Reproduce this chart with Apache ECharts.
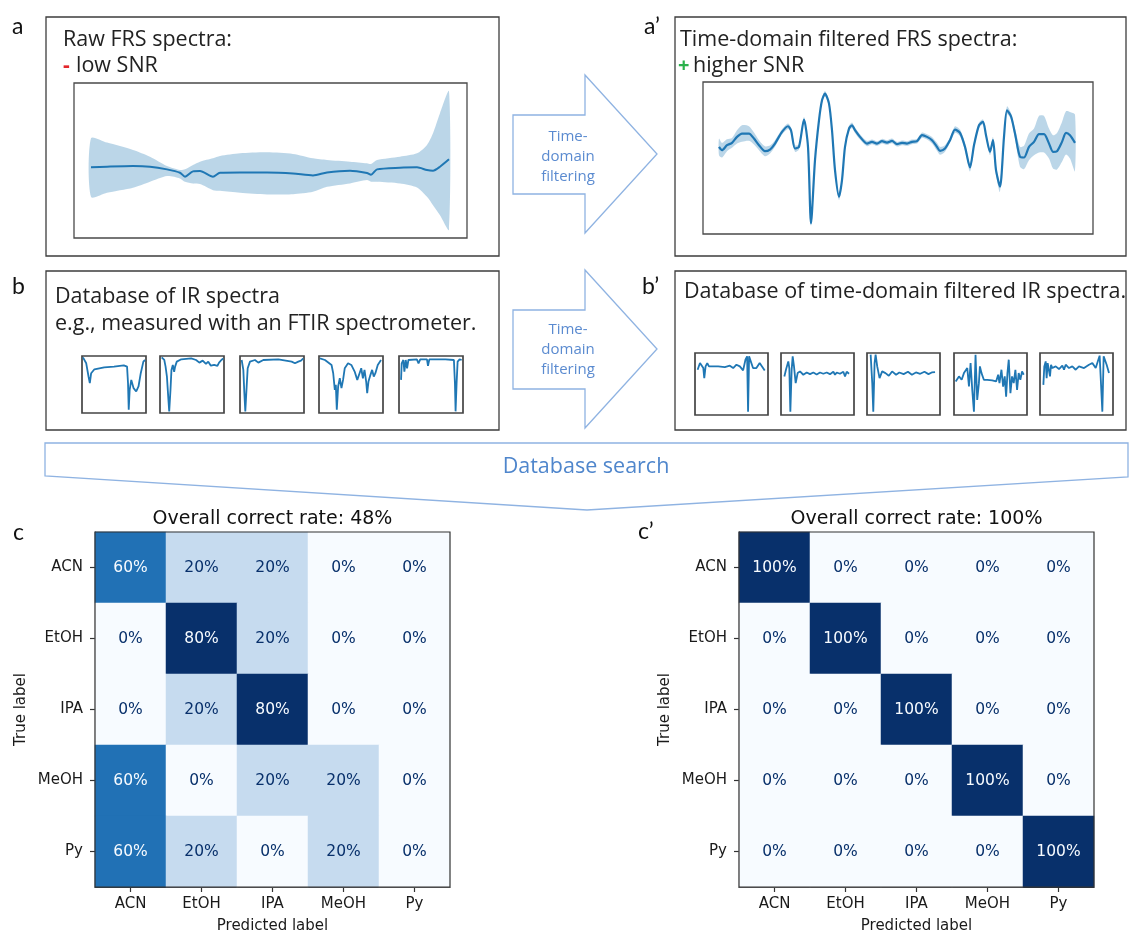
<!DOCTYPE html>
<html>
<head>
<meta charset="utf-8">
<script src="https://cdn.jsdelivr.net/npm/echarts@6/dist/echarts.min.js"></script>
<style>
  html, body { margin: 0; padding: 0; background: #ffffff; }
  #chart { width: 1130px; height: 935px; }
</style>
</head>
<body>
<div id="chart"></div>
<script>
// ---- a: raw FRS spectra (mean and spread) ----
const rawX     = [17, 33, 59, 76, 93, 106, 111, 119, 126, 139, 146, 166, 193, 219, 239, 253, 276, 293, 297, 303, 326, 343, 353, 359, 366, 375];
const rawMean  = [0, 0.02, 0.04, 0.02, -0.06, -0.16, -0.28, -0.12, -0.11, -0.28, -0.16, -0.15, -0.15, -0.18, -0.24, -0.15, -0.10, -0.17, -0.22, -0.06, -0.01, 0, -0.08, -0.10, 0.02, 0.24];
const rawUpper = [0.87, 0.74, 0.52, 0.32, 0.04, -0.08, -0.06, 0.07, 0.17, 0.27, 0.34, 0.42, 0.45, 0.40, 0.27, 0.22, 0.17, 0.12, 0.10, 0.22, 0.32, 0.42, 0.67, 1.02, 1.62, 2.27];
const rawLower = [-0.88, -0.76, -0.61, -0.43, -0.26, -0.33, -0.43, -0.48, -0.50, -0.68, -0.70, -0.76, -0.81, -0.80, -0.73, -0.58, -0.48, -0.38, -0.43, -0.43, -0.48, -0.60, -0.88, -1.13, -1.43, -1.86];

// ---- a': time-domain filtered FRS spectra (mean and half-width of spread) ----
const filtX = [16, 19, 24, 29, 34, 39, 46, 51, 56, 62, 67, 72, 79, 85, 88, 92, 96, 101, 105, 108,
  112, 116, 119, 122, 126, 129, 132, 136, 139, 142, 146, 149, 152, 157, 164, 169, 174, 179, 184, 189,
  194, 199, 204, 209, 214, 219, 224, 229, 234, 237, 242, 247, 252, 257, 262, 267, 271, 276, 280, 283,
  287, 290, 293, 297, 301, 304, 308, 312, 317, 321, 326, 331, 336, 341, 346, 350, 354, 359, 363, 367, 372];
const filtMean = [-0.10, -0.20, -0.05, 0.02, 0.20, 0.30, 0.30, 0.15, -0.05, -0.23, -0.18, 0.00, 0.35, 0.52, 0.40, -0.15, -0.10, 0.72, -0.10, -2.40,
  -0.50, 0.70, 1.30, 1.50, 1.20, 0.40, -0.80, -1.60, -1.10, -0.10, 0.45, 0.55, 0.40, 0.20, 0.00, 0.05, 0.00, 0.07, 0.03, 0.08,
  -0.02, 0.02, 0.00, 0.05, 0.07, 0.25, 0.20, 0.10, -0.10, -0.22, -0.15, 0.10, 0.42, 0.32, -0.10, -0.72, -0.05, 0.55, 0.65, 0.25,
  -0.25, 0.10, -0.80, -1.30, 0.20, 1.00, 0.82, 0.30, -0.40, -0.42, -0.10, 0.05, 0.28, 0.28, 0.00, -0.25, -0.23, 0.05, 0.32, 0.25, 0.02];
const filtSpread = [0.25, 0.22, 0.18, 0.15, 0.20, 0.25, 0.22, 0.18, 0.15, 0.15, 0.12, 0.10, 0.08, 0.08, 0.08, 0.10, 0.08, 0.08, 0.08, 0.08,
  0.08, 0.08, 0.08, 0.08, 0.08, 0.08, 0.08, 0.10, 0.08, 0.08, 0.08, 0.08, 0.08, 0.08, 0.08, 0.07, 0.07, 0.07, 0.07, 0.07,
  0.07, 0.07, 0.07, 0.07, 0.07, 0.08, 0.08, 0.10, 0.12, 0.12, 0.10, 0.08, 0.10, 0.10, 0.10, 0.12, 0.10, 0.08, 0.08, 0.08,
  0.10, 0.10, 0.12, 0.15, 0.10, 0.12, 0.10, 0.15, 0.30, 0.35, 0.40, 0.40, 0.55, 0.55, 0.45, 0.50, 0.55, 0.60, 0.65, 0.70, 0.85];

// ---- b: IR database spectra, [position %, transmittance %] ----
const irSpectrum1 = [[1.5,97.7],[6.6,87.2],[10.2,64],[12.2,52.3],[14.3,69.8],[19.4,76.7],[34.7,80.2],[50,81.4],[65.3,83.7],[70.4,81.4],[71.9,52.3],[73,5.8],[74.5,40.7],[77,58.1],[80.6,43.6],[84.7,37.8],[88.3,46.5],[91.8,69.8],[95.9,90.1],[98.5,93]];
const irSpectrum2 = [[2.6,97.7],[6.7,93],[8.7,81.4],[10.8,64],[12.8,29.1],[14.4,2.9],[16.4,40.7],[17.9,75.6],[20,84.3],[22.1,72.1],[23.6,81.4],[26.2,90.1],[33.3,94.2],[48.7,95.9],[56.4,93],[61.5,88.4],[66.7,91.9],[71.8,86],[75.4,90.1],[79.5,83.1],[84.6,84.3],[89.7,82.6],[92.3,88.4],[95.9,93],[99,95.9]];
const irSpectrum3 = [[2.6,93],[5.2,75.6],[6.8,34.9],[8.3,2.9],[10.4,46.5],[12,78.5],[15.6,90.1],[23.4,93],[28.6,88.4],[36.5,93],[59.9,94.2],[80.7,90.1],[85.9,87.2],[91.1,90.1],[95.3,91.9],[99,95.9]];
const irSpectrum4 = [[1.5,95.9],[9.3,93],[19.6,84.3],[22.2,69.8],[24.7,40.7],[26.3,49.4],[27.8,5.8],[29.9,46.5],[32.5,61],[35.1,43.6],[37.6,58.1],[40.2,78.5],[45.4,87.2],[50.5,84.3],[55.7,72.7],[59.8,58.1],[63.4,69.8],[66,78.5],[68.6,61],[71.1,75.6],[73.7,55.2],[75.3,34.9],[77.3,55.2],[80.4,66.9],[83,75.6],[85.6,64],[88.1,69.8],[91.8,84.3],[96.9,93]];
const irSpectrum5 = [[3.2,58.1],[4.2,87.2],[6.8,93],[8.4,72.7],[10.5,93],[12.6,78.5],[14.7,93],[17.4,94.2],[27.9,94.2],[30.5,87.2],[33.2,94.2],[43.7,94.2],[45.3,82.6],[47.4,94.2],[72.6,94.2],[85.8,93],[87.4,52.3],[88.4,2.9],[90,52.3],[91.6,90.1],[94.7,94.2],[97.9,93]];

// ---- b': time-domain filtered IR database spectra ----
const filteredIrSpectrum1 = [[3.6,73],[6.8,83.8],[9.1,86.5],[11.4,75.7],[12.7,59.5],[14.5,78.4],[16.8,83.8],[19.1,78.4],[21.8,75.7],[31.8,78.4],[40.9,77.3],[47.7,79.5],[52.3,75.7],[56.8,81.1],[61.4,78.4],[65.9,71.9],[69.1,89.2],[71.4,94.6],[72.7,5.4],[74.1,94.6],[76.4,91.9],[79.5,75.7],[84.1,75.7],[88.6,83.8],[91.8,78.4],[95.5,71.9]];
const filteredIrSpectrum2 = [[4.6,62.2],[6.8,73],[10,86.5],[11.4,75.7],[12.8,5.4],[14.6,73],[16,94.6],[17.8,78.4],[20.1,51.4],[22.8,67.6],[26,70.3],[30.6,64.9],[35.2,68.6],[39.7,65.9],[44.3,68.6],[48.9,65.4],[53.4,68.6],[58,66.5],[62.6,68.6],[67.1,65.9],[71.7,69.7],[74,64.9],[76.3,68.6],[80.8,66.5],[85.4,69.7],[87.7,62.2],[90,69.7],[93.2,66.5]];
const filteredIrSpectrum3 = [[5,97.3],[7.2,51.4],[8.6,5.4],[10.4,83.8],[11.8,97.3],[14,78.4],[17.2,59.5],[20.8,70.3],[25.3,67.6],[29.9,63.2],[34.4,70.3],[39.8,64.9],[44.3,68.6],[50.2,65.9],[56.1,69.7],[61.5,64.9],[67,68.6],[72.9,66.5],[78.7,69.7],[84.2,65.9],[88.7,68.6],[93.2,69.2]];
const filteredIrSpectrum4 = [[2.3,54.1],[6.8,62.2],[10.5,56.8],[13.6,67.6],[15.9,64.9],[18.2,75.7],[20.5,45.9],[22.7,83.8],[25,40.5],[27.3,5.4],[29.5,97.3],[31.8,24.3],[34.1,51.4],[35.5,78.4],[37.7,67.6],[40.9,56.8],[45.5,56.8],[52.3,55.7],[57.7,54.1],[60.5,64.9],[62.3,51.4],[65,73],[67.3,45.9],[69.5,62.2],[71.4,29.7],[73.2,67.6],[75,89.2],[77.3,35.1],[79.5,62.2],[81.8,51.4],[84.1,73],[86.4,40.5],[88.6,67.6],[90.9,56.8],[93.2,70.3],[95.5,64.9]];
const filteredIrSpectrum5 = [[4.6,48.6],[5.9,78.4],[7.8,86.5],[9.1,59.5],[10.5,83.8],[12.3,81.1],[13.7,62.2],[15.1,81.1],[16.9,75.7],[21.5,78.4],[26,74.1],[30.6,79.5],[32.9,73],[35.2,81.1],[39.7,75.7],[44.3,78.4],[48.9,73],[53.4,78.4],[60.3,75.7],[67.1,81.1],[71.7,83.8],[76.3,75.7],[79.9,89.2],[81.7,95.7],[83.6,94.6],[85.4,5.4],[87.2,94.6],[89,91.9],[91.3,81.1],[94.5,67.6]];

// ---- c / c': classification results (row = true label, column = predicted label, %) ----
const classes = ['ACN', 'EtOH', 'IPA', 'MeOH', 'Py'];
const rawRates = [
  [60, 20, 20, 0, 0],
  [0, 80, 20, 0, 0],
  [0, 20, 80, 0, 0],
  [60, 0, 20, 20, 0],
  [60, 20, 0, 20, 0]
];
const filteredRates = [
  [100, 0, 0, 0, 0],
  [0, 100, 0, 0, 0],
  [0, 0, 100, 0, 0],
  [0, 0, 0, 100, 0],
  [0, 0, 0, 0, 100]
];
const rawTitle = 'Overall correct rate: 48%';
const filteredTitle = 'Overall correct rate: 100%';

// ---------------------------------------------------------------------------
const LINE = '#1f77b4';
const BAND = 'rgba(31,119,180,0.30)';
const BLUES = ['#f7fbff', '#deebf7', '#c6dbef', '#9ecae1', '#6baed6', '#4292c6', '#2171b5', '#08519c', '#08306b'];
const PANEL_FONT = '"Open Sans"';
const LETTER_FONT = 'Lato';
const MPL_FONT = 'DejaVu Sans';
const ARROW_STROKE = '#8fb3e2';
const ARROW_TEXT = '#5b8bd0';

const chart = echarts.init(document.getElementById('chart'), null, { renderer: 'canvas' });

const grids = [], xAxes = [], yAxes = [], series = [];

function addPlot(rect, xRange, yRange, border) {
  const gi = grids.length;
  grids.push(Object.assign({ show: true, borderColor: border.color, borderWidth: border.width,
    backgroundColor: 'transparent', containLabel: false }, rect));
  xAxes.push({ gridIndex: gi, type: 'value', min: xRange[0], max: xRange[1], show: false });
  yAxes.push({ gridIndex: gi, type: 'value', min: yRange[0], max: yRange[1], show: false });
  return gi;
}

// spread band drawn as one filled polygon through the axis scales
function bandSeries(gi, xs, lo, hi) {
  return {
    type: 'custom', xAxisIndex: gi, yAxisIndex: gi, silent: true, clip: true, z: 1,
    data: xs.map((x, i) => [x, lo[i], hi[i]]),
    encode: { x: 0, y: [1, 2] },
    renderItem: function (params, api) {
      if (params.dataIndex !== 0) return null;
      const top = xs.map((x, i) => api.coord([x, hi[i]]));
      const bottom = xs.map((x, i) => api.coord([x, lo[i]])).reverse();
      return { type: 'polygon', shape: { points: top.concat(bottom), smooth: 0.25 },
        style: { fill: BAND, stroke: null } };
    }
  };
}

function meanSeries(gi, xs, ys, width) {
  return { type: 'line', xAxisIndex: gi, yAxisIndex: gi, data: xs.map((x, i) => [x, ys[i]]),
    symbol: 'none', smooth: 0.25, silent: true, z: 3,
    lineStyle: { color: LINE, width: width } };
}

// a
const gA = addPlot({ left: 74, top: 83, width: 393, height: 155 }, [0, 393], [-2.11, 2.52], { color: '#4a4a4a', width: 1.3 });
series.push(bandSeries(gA, rawX, rawLower, rawUpper));
series.push(meanSeries(gA, rawX, rawMean, 2));

// a'
const gA2 = addPlot({ left: 703, top: 82, width: 390, height: 152 }, [0, 390], [-2.72, 1.85], { color: '#4a4a4a', width: 1.3 });
series.push(bandSeries(gA2, filtX, filtMean.map((m, i) => m - filtSpread[i]), filtMean.map((m, i) => m + filtSpread[i])));
series.push(meanSeries(gA2, filtX, filtMean, 2.2));

// b and b' thumbnails
const irList = [irSpectrum1, irSpectrum2, irSpectrum3, irSpectrum4, irSpectrum5];
const irLefts = [82, 160, 240, 319, 399];
irList.forEach((spec, k) => {
  const g = addPlot({ left: irLefts[k], top: 356, width: 64, height: 57 }, [0, 100], [0, 100], { color: '#444', width: 1.7 });
  series.push({ type: 'line', xAxisIndex: g, yAxisIndex: g, data: spec, symbol: 'none', silent: true,
    lineStyle: { color: LINE, width: 1.8 } });
});
const filtIrList = [filteredIrSpectrum1, filteredIrSpectrum2, filteredIrSpectrum3, filteredIrSpectrum4, filteredIrSpectrum5];
const filtIrLefts = [695, 781, 867, 954, 1040];
filtIrList.forEach((spec, k) => {
  const g = addPlot({ left: filtIrLefts[k], top: 353, width: 73, height: 62 }, [0, 100], [0, 100], { color: '#444', width: 1.7 });
  series.push({ type: 'line', xAxisIndex: g, yAxisIndex: g, data: spec, symbol: 'none', silent: true,
    lineStyle: { color: LINE, width: 1.8 } });
});

// c and c' confusion matrices
function matrixItems(rates) {
  const flat = rates.flat();
  const lo = Math.min.apply(null, flat), hi = Math.max.apply(null, flat);
  const thr = (lo + hi) / 2;
  const items = [];
  rates.forEach((row, r) => row.forEach((v, c) => {
    items.push({ value: [c, r, v], label: { color: v > thr ? '#f7fbff' : '#08306b' } });
  }));
  return { items, lo, hi };
}

const visualMaps = [];
function addMatrix(rect, rates) {
  const gi = grids.length;
  grids.push(Object.assign({ show: false, containLabel: false }, rect));
  const axisLine = { show: true, lineStyle: { color: '#333', width: 1.2 } };
  const axisTick = { show: true, alignWithLabel: true, length: 5, lineStyle: { color: '#333', width: 1.2 } };
  const labelStyle = { fontFamily: MPL_FONT, fontSize: 15, color: '#1a1a1a' };
  xAxes.push({ gridIndex: gi, type: 'category', data: classes, position: 'bottom',
    axisLine, axisTick, splitLine: { show: false }, splitArea: { show: false },
    axisLabel: Object.assign({ margin: 10 }, labelStyle),
    name: 'Predicted label', nameLocation: 'middle', nameGap: 32, nameTextStyle: labelStyle });
  yAxes.push({ gridIndex: gi, type: 'category', data: classes, inverse: true, position: 'left',
    axisLine, axisTick, splitLine: { show: false }, splitArea: { show: false },
    axisLabel: Object.assign({ margin: 12 }, labelStyle),
    name: 'True label', nameLocation: 'middle', nameRotate: 90, nameGap: 66, nameTextStyle: labelStyle });
  const m = matrixItems(rates);
  const si = series.length;
  series.push({ type: 'heatmap', xAxisIndex: gi, yAxisIndex: gi, data: m.items, silent: true,
    itemStyle: { borderWidth: 0 },
    label: { show: true, fontFamily: MPL_FONT, fontSize: 15.5, formatter: p => p.value[2] + '%' } });
  visualMaps.push({ type: 'continuous', show: false, seriesIndex: si, dimension: 2,
    min: m.lo, max: m.hi, inRange: { color: BLUES } });
}
addMatrix({ left: 95, top: 532, width: 355, height: 355 }, rawRates);
addMatrix({ left: 739, top: 532, width: 355, height: 355 }, filteredRates);

// ---- drawing furniture: frames, arrows, captions ----
function text(x, y, str, font, fill, align) {
  return { type: 'text', x: x, y: y, z: 50, silent: true,
    style: { text: str, font: font, fill: fill, textAlign: align || 'left', align: align || 'left',
      textVerticalAlign: 'middle', verticalAlign: 'middle' } };
}
function frame(x, y, w, h, stroke, lw) {
  return { type: 'rect', z: 40, silent: true, shape: { x: x, y: y, width: w, height: h },
    style: { fill: null, stroke: stroke, lineWidth: lw } };
}
function arrow(points) {
  return { type: 'polygon', z: 40, silent: true, shape: { points: points },
    style: { fill: '#ffffff', stroke: ARROW_STROKE, lineWidth: 1.3 } };
}
const pFont = sz => 'normal ' + sz + 'px ' + PANEL_FONT;
const lFont = sz => 'normal ' + sz + 'px ' + LETTER_FONT;
const graphics = [
  // panel frames
  frame(46, 17, 453, 239, '#3d3d3d', 1.3),
  frame(675, 17, 451, 239, '#3d3d3d', 1.3),
  frame(46, 271, 453, 159, '#3d3d3d', 1.3),
  frame(675, 271, 451, 159, '#3d3d3d', 1.3),
  frame(95, 532, 355, 355, '#333', 1.2),
  frame(739, 532, 355, 355, '#333', 1.2),
  // arrows
  arrow([[513, 115], [585, 115], [585, 75], [657, 154], [585, 233], [585, 194], [513, 194]]),
  arrow([[513, 310], [585, 310], [585, 270], [657, 349], [585, 428], [585, 389], [513, 389]]),
  arrow([[45, 443], [1128, 443], [1128, 477], [587, 510], [45, 476]]),
  text(568, 137, 'Time-', pFont(15), ARROW_TEXT, 'center'),
  text(568, 157, 'domain', pFont(15), ARROW_TEXT, 'center'),
  text(568, 177, 'filtering', pFont(15), ARROW_TEXT, 'center'),
  text(568, 330, 'Time-', pFont(15), ARROW_TEXT, 'center'),
  text(568, 350, 'domain', pFont(15), ARROW_TEXT, 'center'),
  text(568, 370, 'filtering', pFont(15), ARROW_TEXT, 'center'),
  text(586, 467, 'Database search', pFont(21.5), '#4f86cc', 'center'),
  // panel letters
  text(12, 27, 'a', lFont(23), '#111'),
  text(644, 27, 'a\u2019', lFont(23), '#111'),
  text(12, 287, 'b', lFont(23), '#111'),
  text(642, 287, 'b\u2019', lFont(23), '#111'),
  text(13, 533, 'c', lFont(23), '#111'),
  text(638, 532, 'c\u2019', lFont(23), '#111'),
  // panel captions
  text(63, 40, 'Raw FRS spectra:', pFont(21.5), '#222'),
  text(63, 66, '-', 'bold 21px ' + PANEL_FONT, '#e3262b'),
  text(76, 66, 'low SNR', pFont(21.5), '#222'),
  text(680, 40, 'Time-domain filtered FRS spectra:', pFont(21.5), '#222'),
  text(678, 66, '+', 'bold 20px ' + PANEL_FONT, '#2bb24c'),
  text(693, 66, 'higher SNR', pFont(21.5), '#222'),
  text(55, 297, 'Database of IR spectra', pFont(21.5), '#222'),
  text(55, 324, 'e.g., measured with an FTIR spectrometer.', pFont(21.5), '#222'),
  text(684, 292, 'Database of time-domain filtered IR spectra.', pFont(21.5), '#222'),
  // matrix titles
  text(272.5, 519, rawTitle, 'normal 19px ' + MPL_FONT, '#111', 'center'),
  text(916.5, 519, filteredTitle, 'normal 19px ' + MPL_FONT, '#111', 'center')
];

chart.setOption({
  animation: false,
  backgroundColor: '#ffffff',
  grid: grids,
  xAxis: xAxes,
  yAxis: yAxes,
  visualMap: visualMaps,
  series: series,
  graphic: { elements: graphics }
});
</script>
</body>
</html>
